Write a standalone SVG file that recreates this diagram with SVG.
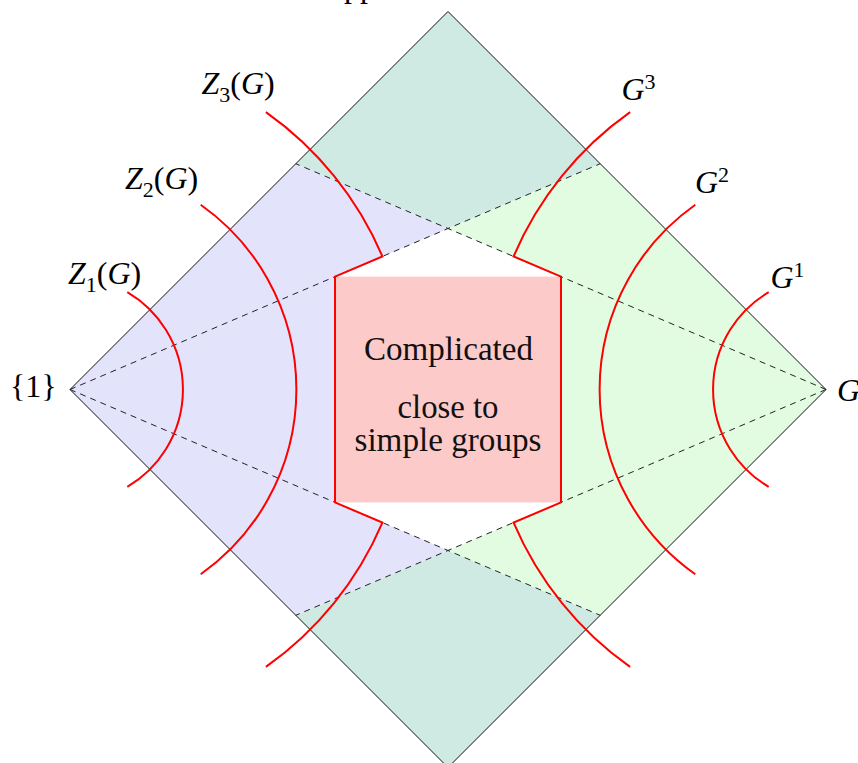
<svg xmlns="http://www.w3.org/2000/svg" width="858" height="763" viewBox="0 0 858 763">
<defs>
<style>
.lbl{font-family:"Liberation Serif","Times New Roman",serif;font-size:32px;fill:#000}
.it{font-style:italic}
.sub{font-size:22px}
.box{font-family:"Liberation Serif","Times New Roman",serif;font-size:33px;fill:#111;text-anchor:middle}
.dash{stroke:#222;stroke-width:1;stroke-dasharray:6,5;fill:none}
.red{stroke:#ff0000;stroke-width:2;fill:none;stroke-linejoin:miter}
.edge{stroke:#111;stroke-width:1;fill:none}
</style>
</defs>
<rect width="858" height="763" fill="#ffffff"/>
<g id="regions">
<polygon id="top-region" points="448,11.5 600.2,163.7 448,228.5 295.8,163.7" fill="#cfe9e3"/>
<polygon id="bottom-region" points="448,767.5 600.2,615.3 448,550.5 295.8,615.3" fill="#cfe9e3"/>
<polygon id="left-region" points="70,389.5 295.8,163.7 448,228.5 335,276.6 335,502.4 448,550.5 295.8,615.3" fill="#e3e3fb"/>
<polygon id="right-region" points="826,389.5 600.2,163.7 448,228.5 561,276.6 561,502.4 448,550.5 600.2,615.3" fill="#e1fce1"/>
</g>
<g id="connectors">
<polygon class="edge" points="70,389.5 448,11.5 826,389.5 448,767.5"/>
<line class="dash" x1="70" y1="389.5" x2="600.2" y2="163.7"/>
<line class="dash" x1="826" y1="389.5" x2="295.8" y2="163.7"/>
<line class="dash" x1="70" y1="389.5" x2="600.2" y2="615.3"/>
<line class="dash" x1="826" y1="389.5" x2="295.8" y2="615.3"/>
</g>
<g id="center-box">
<rect x="335" y="276.6" width="226" height="225.8" fill="#fdcaca"/>
<text class="box" x="448.5" y="360" textLength="169" lengthAdjust="spacingAndGlyphs">Complicated</text>
<text class="box" x="448" y="418" textLength="101" lengthAdjust="spacingAndGlyphs">close to</text>
<text class="box" x="448" y="450.5" textLength="187" lengthAdjust="spacingAndGlyphs">simple groups</text>
</g>
<g id="curves">
<path id="Z1-arc" class="red" d="M127.3,292.2 A112.9,112.9 0 0 1 127.3,486.8"/>
<path id="Z2-arc" class="red" d="M200.7,204.7 A226.3,226.3 0 0 1 200.7,574.3"/>
<path id="Z3-arc" class="red" d="M265.9,112.1 A339.6,339.6 0 0 1 382.4,256.4 L335,276.6 L335,502.4 L382.4,522.6 A339.6,339.6 0 0 1 265.9,666.9"/>
<path id="G1-arc" class="red" d="M768.7,292.2 A112.9,112.9 0 0 0 768.7,486.8"/>
<path id="G2-arc" class="red" d="M695.3,204.7 A226.3,226.3 0 0 0 695.3,574.3"/>
<path id="G3-arc" class="red" d="M630.1,112.1 A339.6,339.6 0 0 0 513.6,256.4 L561,276.6 L561,502.4 L513.6,522.6 A339.6,339.6 0 0 0 630.1,666.9"/>
</g>
<g id="labels">
<text id="top-label" class="lbl" x="321" y="-3.5">Approximate abelian</text>
<text id="trivial" class="lbl" x="10" y="397" font-size="30">{1}</text>
<text id="G" class="lbl it" x="837" y="401">G</text>
<text id="Z1" class="lbl" x="68" y="283.5"><tspan class="it">Z</tspan><tspan class="sub" dy="8">1</tspan><tspan dy="-8">(</tspan><tspan class="it">G</tspan>)</text>
<text id="Z2" class="lbl" x="125" y="188.5"><tspan class="it">Z</tspan><tspan class="sub" dy="8">2</tspan><tspan dy="-8">(</tspan><tspan class="it">G</tspan>)</text>
<text id="Z3" class="lbl" x="201.5" y="93.5"><tspan class="it">Z</tspan><tspan class="sub" dy="8">3</tspan><tspan dy="-8">(</tspan><tspan class="it">G</tspan>)</text>
<text id="G3" class="lbl" x="621.5" y="100"><tspan class="it">G</tspan><tspan class="sub" dy="-11">3</tspan></text>
<text id="G2" class="lbl" x="695" y="193"><tspan class="it">G</tspan><tspan class="sub" dy="-11">2</tspan></text>
<text id="G1" class="lbl" x="770.5" y="288"><tspan class="it">G</tspan><tspan class="sub" dy="-11">1</tspan></text>
</g>
</svg>
